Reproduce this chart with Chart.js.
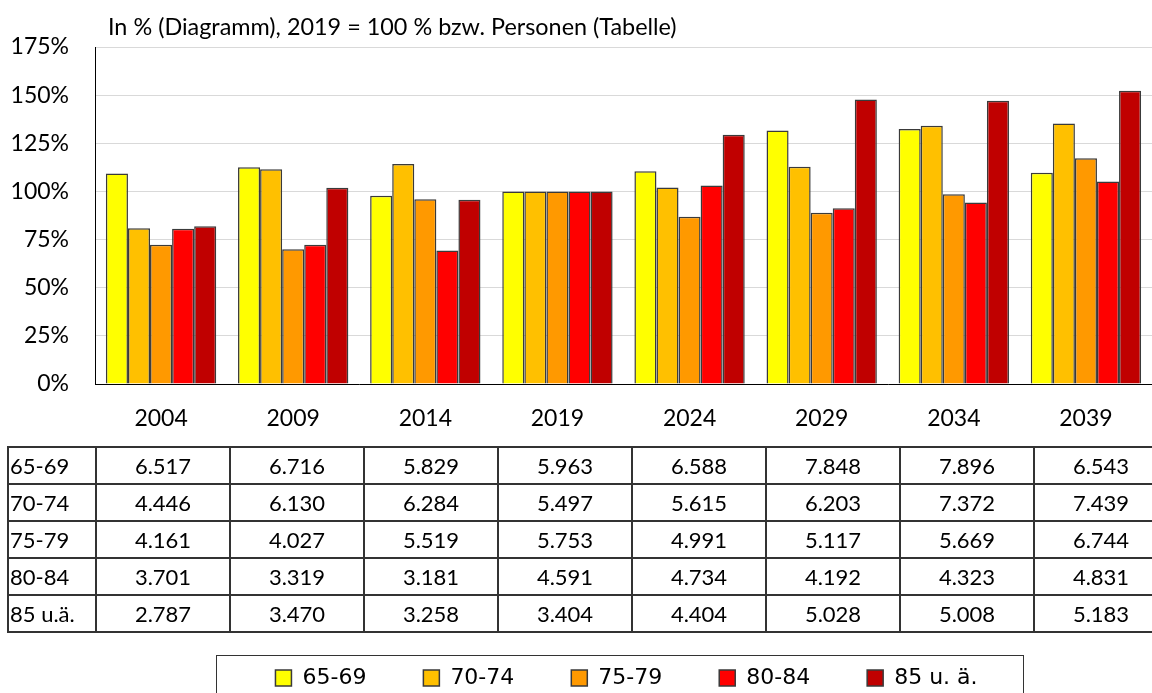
<!DOCTYPE html>
<html><head><meta charset="utf-8">
<script src="https://cdn.jsdelivr.net/npm/chart.js@4.4.0/dist/chart.umd.min.js"></script>
<style>
html,body{margin:0;padding:0;background:#fff;width:1152px;height:693px;overflow:hidden;}
#wrap{position:relative;width:1152px;height:693px;overflow:hidden;}
#c{position:absolute;left:0;top:0;}
table{position:absolute;left:7px;top:446px;border-collapse:collapse;table-layout:fixed;font-family:Lato,'Open Sans',sans-serif;font-size:22px;color:#000;}
td{border:2px solid #333;padding:0;text-align:center;white-space:nowrap;overflow:hidden;}
tr{height:37px;}
td.lab{text-align:left;padding-left:1px;}
</style></head><body>
<div id="wrap"><canvas id="c" width="1152" height="693"></canvas><table id="tbl"></table></div>
<script>
const years = ['2004','2009','2014','2019','2024','2029','2034','2039'];
const groups = ['65-69','70-74','75-79','80-84','85 u. ä.'];
const rowLabels = ['65-69','70-74','75-79','80-84','85 u.ä.'];
const colors = ['#FFFF00','#FFC000','#FF9900','#FF0000','#C00000'];
const yTicks = [0,25,50,75,100,125,150,175];

// Diagramm: in %, 2019 = 100 %
const pct6569 = [109.3,112.6,97.8,100,110.5,131.6,132.4,109.7];
const pct7074 = [80.9,111.5,114.3,100,102.1,112.8,134.1,135.3];
const pct7579 = [72.3,70.0,95.9,100,86.8,88.9,98.5,117.2];
const pct8084 = [80.6,72.3,69.3,100,103.1,91.3,94.2,105.2];
const pct85 = [81.9,101.9,95.7,100,129.4,147.7,147.1,152.3];

// Tabelle: Personen
const pers6569 = ['6.517','6.716','5.829','5.963','6.588','7.848','7.896','6.543'];
const pers7074 = ['4.446','6.130','6.284','5.497','5.615','6.203','7.372','7.439'];
const pers7579 = ['4.161','4.027','5.519','5.753','4.991','5.117','5.669','6.744'];
const pers8084 = ['3.701','3.319','3.181','4.591','4.734','4.192','4.323','4.831'];
const pers85 = ['2.787','3.470','3.258','3.404','4.404','5.028','5.008','5.183'];

const titleText = 'In % (Diagramm), 2019 = 100 % bzw. Personen (Tabelle)';

const series = [pct6569,pct7074,pct7579,pct8084,pct85];
const persons = [pers6569,pers7074,pers7579,pers8084,pers85];

// build table
const tbl = document.getElementById('tbl');
let html = '<colgroup><col style="width:88px">' + years.map(()=>'<col style="width:134px">').join('') + '</colgroup>';
rowLabels.forEach((r,i)=>{
  html += '<tr><td class="lab">'+r+'</td>' + persons[i].map(v=>'<td>'+v+'</td>').join('') + '</tr>';
});
tbl.innerHTML = html;
tbl.style.width = (88 + 134*years.length) + 'px';

const titlePlugin = {
  id:'topTitle',
  afterDraw(chart){
    const ctx = chart.ctx;
    ctx.save();
    ctx.font = '23.4px Lato';
    ctx.fillStyle = '#000';
    ctx.textBaseline = 'alphabetic';
    ctx.textAlign = 'left';
    ctx.fillText(titleText, 108, 35);
    ctx.restore();
  }
};
const LEGEND_SHIFT = 46;
const legendShift = {
  id:'legendShift',
  afterUpdate(chart){
    const lg = chart.legend;
    lg.left += LEGEND_SHIFT; lg.right += LEGEND_SHIFT;
    (lg.legendHitBoxes||[]).forEach(h=>{ h.left += LEGEND_SHIFT; });
  }
};
const legendBox = {
  id:'legendBox',
  afterDraw(chart){
    const hb = chart.legend.legendHitBoxes;
    if(!hb || !hb.length) return;
    const f = hb[0];
    const ctx = chart.ctx;
    ctx.save();
    ctx.strokeStyle = '#333';
    ctx.lineWidth = 1;
    const x1 = Math.round(f.left - 59)+0.5;
    const y1 = Math.round(f.top + f.height/2 - 23)+0.5;
    ctx.strokeRect(x1, y1, 807, 60);
    ctx.restore();
  }
};

new Chart(document.getElementById('c'), {
  type:'bar',
  data:{
    labels: years,
    datasets: groups.map((g,i)=>({
      label:g, data:series[i], backgroundColor:colors[i], borderColor:'#3a3a3a', borderWidth:1.5,
      categoryPercentage:0.835, barPercentage:1
    }))
  },
  options:{
    responsive:false, animation:false,
    layout:{padding:{left:0, right:-9, top:47, bottom:-6}},
    plugins:{
      legend:{position:'bottom', labels:{boxWidth:16, boxHeight:16, padding:57, color:'#000', font:{family:'DejaVu Sans', size:22}}},
      tooltip:{enabled:false}, title:{display:false}
    },
    scales:{
      x:{
        grid:{display:false, drawTicks:false},
        border:{display:true, color:'#000', width:1},
        ticks:{color:'#000', font:{family:'Lato', size:23}, padding:21, maxRotation:0},
        afterFit(s){ s.height = 226; }
      },
      y:{
        min:0, max:175,
        afterBuildTicks(s){ s.ticks = yTicks.map(v=>({value:v})); },
        ticks:{callback:v=>v+'%', color:'#000', font:{family:'Lato', size:23}, padding:26},
        grid:{color:'#d9d9d9', drawTicks:false},
        border:{display:true, color:'#000', width:1},
        afterFit(s){ s.width = 95; }
      }
    }
  },
  plugins:[titlePlugin, legendShift, legendBox]
});
</script>
</body></html>
